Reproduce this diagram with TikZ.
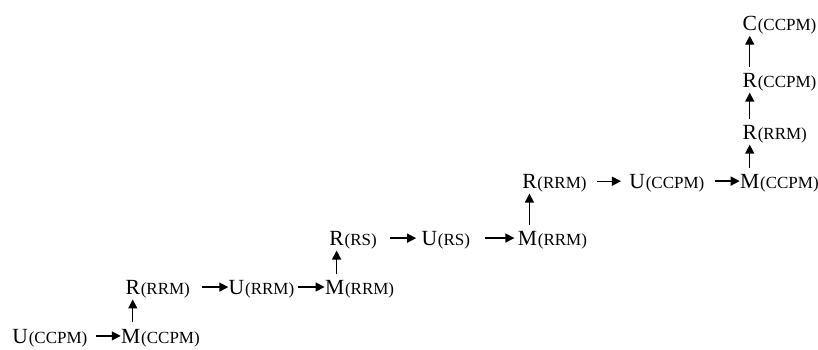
\documentclass[tikz,border=0pt]{standalone}
\usepackage{fontspec}
\setmainfont{Liberation Serif}
\usetikzlibrary{positioning, arrows.meta}

\begin{document}
\begin{tikzpicture}[
        % letters and their bracketed tags
        lett/.style={inner sep=0pt, font=\fontsize{10.8}{12}\selectfont},
        tag/.style={inner sep=0pt, font=\fontsize{8.5}{10}\selectfont},
        % connectors
        hop/.style={line width=0.7pt, -{Triangle[length=4.5pt, width=4.5pt]}},
        rise/.style={hop, shorten <=3pt, shorten >=2.5pt}
    ]
    \useasboundingbox (0,0) rectangle (409pt,174.5pt);

    % --- Bottom row ---
    \node[lett, anchor=base west] (u1) at (6pt,3pt) {U};
    \node[tag, base right=0pt of u1] (u1t) {(CCPM)};
    \node[lett, base right=16.5pt of u1t] (m1) {M};
    \node[tag, base right=0pt of m1] (m1t) {(CCPM)};

    % --- Second row ---
    \node[lett, above=17pt of m1, xshift=1pt] (r1) {R};
    \node[tag, base right=0pt of r1] (r1t) {(RRM)};
    \node[lett, base right=19pt of r1t] (u2) {U};
    \node[tag, base right=0pt of u2] (u2t) {(RRM)};
    \node[lett, base right=15pt of u2t] (m2) {M};
    \node[tag, base right=0pt of m2] (m2t) {(RRM)};

    % --- Third row ---
    \node[lett, above=17pt of m2, xshift=1pt] (r2) {R};
    \node[tag, base right=0pt of r2] (r2t) {(RS)};
    \node[lett, base right=22pt of r2t] (u3) {U};
    \node[tag, base right=0pt of u3] (u3t) {(RS)};
    \node[lett, base right=23.5pt of u3t] (m3) {M};
    \node[tag, base right=0pt of m3] (m3t) {(RRM)};

    % --- Fourth row ---
    \node[lett, above=21pt of m3, xshift=1pt] (r3) {R};
    \node[tag, base right=0pt of r3] (r3t) {(RRM)};
    \node[lett, base right=21pt of r3t] (u4) {U};
    \node[tag, base right=0pt of u4] (u4t) {(CCPM)};
    \node[lett, base right=17.5pt of u4t] (m4) {M};
    \node[tag, base right=0pt of m4] (m4t) {(CCPM)};

    % --- Right column ---
    \node[lett, above=17pt of m4] (r4) {R};
    \node[tag, base right=0pt of r4] (r4t) {(RRM)};
    \node[lett, above=18.5pt of r4] (r5) {R};
    \node[tag, base right=0pt of r5] (r5t) {(CCPM)};
    \node[lett, above=21pt of r5] (c1) {C};
    \node[tag, base right=0pt of c1] (c1t) {(CCPM)};

    % --- Connecting arrows ---

    % along the rows
    \draw[hop, shorten <=4pt] (u1t.east |- m1) -- (m1);
    \draw[hop, shorten <=6pt] (r1t.east |- u2) -- (u2);
    \draw[hop, shorten <=1.5pt] (u2t.east |- m2) -- (m2);
    \draw[hop, shorten <=6.5pt, shorten >=2.5pt] (r2t.east |- u3) -- (u3);
    \draw[hop, shorten <=7.5pt, shorten >=1.5pt] (u3t.east |- m3) -- (m3);
    \draw[hop, shorten <=5pt, shorten >=4pt] (r3t.east |- u4) -- (u4);
    \draw[hop, shorten <=5pt] (u4t.east |- m4) -- (m4);

    % up the steps
    \draw[rise] (m1.north -| r1) -- (r1);
    \draw[rise] (m2.north -| r2) -- (r2);
    \draw[rise] (m3.north -| r3) -- (r3);
    \draw[rise] (m4) -- (r4);
    \draw[rise] (r4) -- (r5);
    \draw[rise] (r5) -- (c1);

\end{tikzpicture}
\end{document}
